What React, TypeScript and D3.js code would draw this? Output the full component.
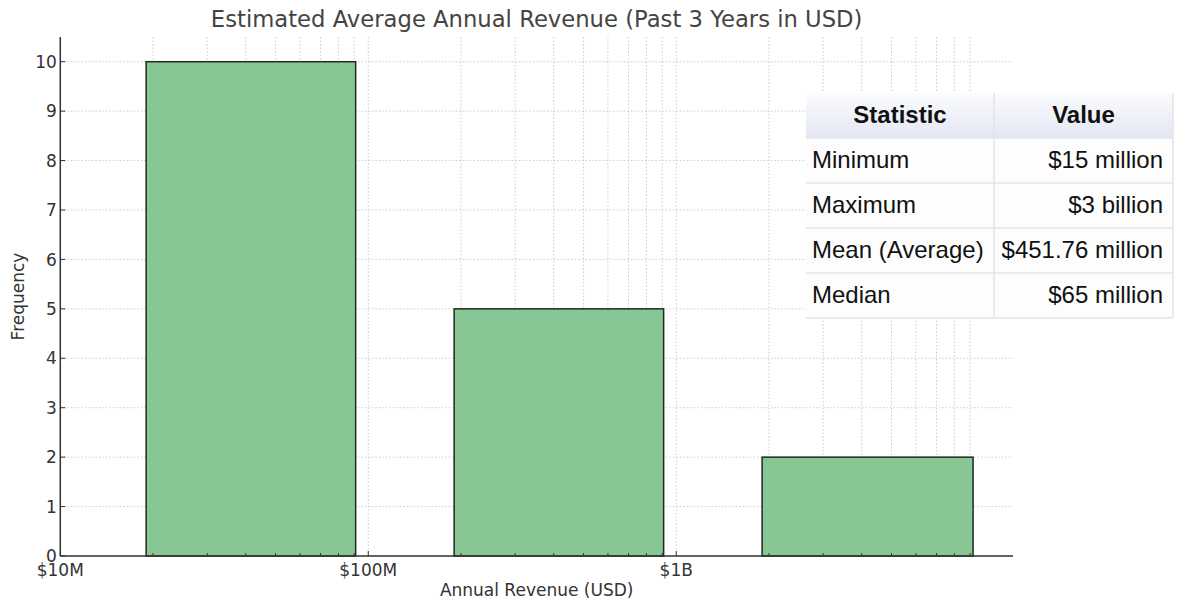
import React from "react";
import * as d3 from "d3";

// ---- data ----
const binLower = [1.9e7, 1.9e8, 1.9e9];
const binUpper = [9.1e7, 9.1e8, 9.2e9];
const frequency = [10, 5, 2];

const xMajorTicks = [1e7, 1e8, 1e9];
const xMajorLabels = ["$10M", "$100M", "$1B"];
const yTicks = [0, 1, 2, 3, 4, 5, 6, 7, 8, 9, 10];

const tableHeaders = ["Statistic", "Value"];
const statNames = ["Minimum", "Maximum", "Mean (Average)", "Median"];
const statValues = ["$15 million", "$3 billion", "$451.76 million", "$65 million"];

const titleText = "Estimated Average Annual Revenue (Past 3 Years in USD)";
const xLabelText = "Annual Revenue (USD)";
const yLabelText = "Frequency";

const X_MIN = 1e7;
const X_MAX = 1.24e10;
const Y_MAX = 10.5;

export default function App() {
  const W = 1178;
  const H = 603;
  const left = 60.3;
  const right = 1013;
  const top = 37;
  const bottom = 556;

  const x = d3.scaleLog().domain([X_MIN, X_MAX]).range([left, right]);
  const y = d3.scaleLinear().domain([0, Y_MAX]).range([bottom, top]);

  const minorTicks: number[] = [];
  xMajorTicks.forEach((m) => {
    for (let k = 2; k <= 9; k++) {
      const v = m * k;
      if (v <= X_MAX) minorTicks.push(v);
    }
  });

  const chartFont = "'DejaVu Sans', sans-serif";
  const tableFont = "'Liberation Sans', Arial, sans-serif";
  const textColor = "#333";
  const gridColor = "#c6c6c6";

  // table geometry
  const tX0 = 806;
  const tX1 = 994;
  const tX2 = 1173;
  const tY0 = 93;
  const headerH = 45;
  const rowH = 45;
  const rowsY = statNames.map((_, i) => tY0 + headerH + i * rowH);
  const tableBottom = tY0 + headerH + statNames.length * rowH;

  return (
    <svg
      width={W}
      height={H}
      style={{ position: "absolute", left: 0, top: 0, background: "#fff" }}
    >
      <defs>
        <linearGradient id="hdr" x1="0" y1="0" x2="0" y2="1">
          <stop offset="0%" stopColor="#fbfcfe" />
          <stop offset="100%" stopColor="#e3e7f3" />
        </linearGradient>
      </defs>
      <rect x={0} y={0} width={W} height={H} fill="#fff" />

      {/* grid */}
      <g stroke={gridColor} strokeWidth={0.9} strokeDasharray="1.5,2">
        {yTicks.map((t) => (
          <line key={"hy" + t} x1={left} x2={right} y1={y(t)} y2={y(t)} />
        ))}
        {[...xMajorTicks, ...minorTicks].map((t) => (
          <line key={"vx" + t} x1={x(t)} x2={x(t)} y1={top} y2={bottom} />
        ))}
      </g>

      {/* bars */}
      {frequency.map((f, i) => (
        <rect
          key={"bar" + i}
          x={x(binLower[i])}
          y={y(f)}
          width={x(binUpper[i]) - x(binLower[i])}
          height={y(0) - y(f)}
          fill="#88c696"
          stroke="#1e2a20"
          strokeWidth={1.5}
        />
      ))}

      {/* ticks (inward) */}
      <g stroke="#333" strokeWidth={1}>
        {yTicks.map((t) => (
          <line key={"yt" + t} x1={left} x2={left + 5} y1={y(t)} y2={y(t)} />
        ))}
        {xMajorTicks.map((t) => (
          <line key={"xt" + t} x1={x(t)} x2={x(t)} y1={bottom} y2={bottom - 5} />
        ))}
        {minorTicks.map((t) => (
          <line key={"xm" + t} x1={x(t)} x2={x(t)} y1={bottom} y2={bottom - 3} />
        ))}
      </g>

      {/* spines */}
      <line x1={left} x2={left} y1={top} y2={bottom} stroke="#333" strokeWidth={1.5} />
      <line x1={left} x2={right} y1={bottom} y2={bottom} stroke="#333" strokeWidth={1.5} />

      {/* tick labels */}
      <g fontFamily={chartFont} fontSize={17} fill={textColor}>
        {yTicks.map((t) => (
          <text key={"yl" + t} x={left - 3.5} y={y(t)} dy="0.36em" textAnchor="end">
            {t}
          </text>
        ))}
        {xMajorTicks.map((t, i) => (
          <text key={"xl" + t} x={x(t)} y={576} textAnchor="middle">
            {xMajorLabels[i]}
          </text>
        ))}
        <text x={(left + right) / 2} y={596} textAnchor="middle">
          {xLabelText}
        </text>
        <text
          transform={`translate(24,${(top + bottom) / 2}) rotate(-90)`}
          textAnchor="middle"
        >
          {yLabelText}
        </text>
      </g>

      {/* title */}
      <text
        x={(left + right) / 2}
        y={27}
        textAnchor="middle"
        fontFamily={chartFont}
        fontSize={22.7}
        fill="#444"
      >
        {titleText}
      </text>

      {/* table */}
      <g fontFamily={tableFont} fontSize={24} fill="#111">
        <rect x={tX0} y={tY0} width={tX2 - tX0} height={headerH} fill="url(#hdr)" />
        {statNames.map((_, i) => (
          <rect
            key={"rb" + i}
            x={tX0}
            y={rowsY[i]}
            width={tX2 - tX0}
            height={rowH}
            fill="#fdfdfd"
          />
        ))}
        <g stroke="#e4e4e4" strokeWidth={1.5}>
          {statNames.map((_, i) => (
            <line key={"rl" + i} x1={tX0} x2={tX2} y1={rowsY[i]} y2={rowsY[i]} />
          ))}
          <line x1={tX0} x2={tX2} y1={tableBottom} y2={tableBottom} />
          <line x1={tX1} x2={tX1} y1={tY0} y2={tableBottom} />
          <line x1={tX2} x2={tX2} y1={tY0} y2={tableBottom} />
        </g>
        <text x={(tX0 + tX1) / 2} y={tY0 + 30} textAnchor="middle" fontWeight="bold">
          {tableHeaders[0]}
        </text>
        <text x={(tX1 + tX2) / 2} y={tY0 + 30} textAnchor="middle" fontWeight="bold">
          {tableHeaders[1]}
        </text>
        {statNames.map((n, i) => (
          <g key={"tr" + i}>
            <text x={tX0 + 6} y={rowsY[i] + 30}>
              {n}
            </text>
            <text x={tX2 - 10} y={rowsY[i] + 30} textAnchor="end">
              {statValues[i]}
            </text>
          </g>
        ))}
      </g>
    </svg>
  );
}
